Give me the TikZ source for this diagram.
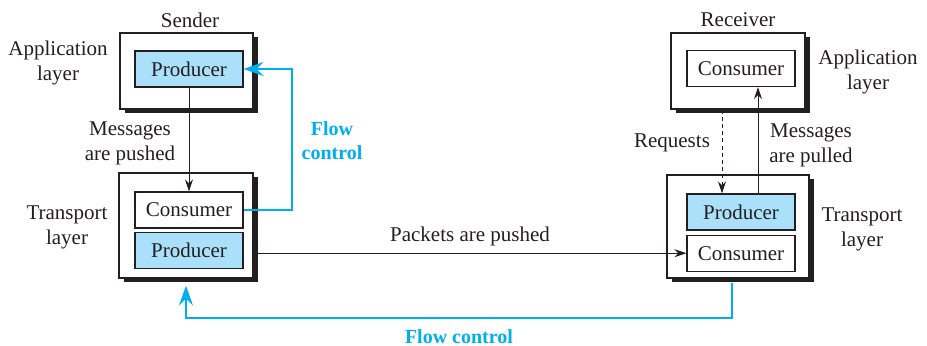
\documentclass[tikz,border=0pt]{standalone}
\usepackage{fontspec}
\setmainfont{Liberation Serif}
\usepackage{xcolor}
\usepackage{tikz}
\usetikzlibrary{arrows.meta, positioning, shadows}
\definecolor{flowblue}{RGB}{0,174,239}
\definecolor{prodblue}{RGB}{170,224,250}
\definecolor{inkgray}{RGB}{35,31,32}
\tikzset{
  layerbox/.style={
    rectangle, draw=inkgray, fill=white, line width=0.6pt, inner sep=0pt,
    drop shadow={shadow xshift=2.4pt, shadow yshift=-2.2pt, fill=inkgray, opacity=1}
  },
  block/.style={
    rectangle, draw=inkgray, fill=white, line width=0.6pt,
    minimum width=54pt, minimum height=18pt, inner sep=0pt, text=inkgray
  },
  prodblock/.style={block, fill=prodblue},
  note/.style={align=center, text=inkgray},
  flowlabel/.style={align=center, text=flowblue, font=\bfseries},
  arrow/.style={-{Stealth[length=6pt, width=4pt, inset=2pt]}, draw=inkgray, line width=0.5pt},
  dasharrow/.style={arrow, dash pattern=on 2pt off 1.6pt},
  flowarrow/.style={-{Stealth[length=10pt, width=7pt, inset=3.5pt]}, draw=flowblue, line width=1.3pt},
}

\begin{document}
\begin{tikzpicture}[x=0.5pt, y=-0.5pt, font=\fontsize{10.5}{12.6}\selectfont]
    \useasboundingbox (0,0) rectangle (927,345);

    % sender side
    \node[layerbox, minimum width=66.5pt, minimum height=38pt] (sapp) at (186.5,71) {};
    \node[prodblock] (sprod) at (189,69) {Producer};
    \node[layerbox, minimum width=67pt, minimum height=52.5pt] (strans) at (186,225.5) {};
    \node[block] (scons) at (189,210) {Consumer};
    \node[prodblock, below=1.5pt of scons] (stprod) {Producer};

    % receiver side
    \node[layerbox, minimum width=67pt, minimum height=38pt] (rapp) at (738,71) {};
    \node[block] (rcons) at (741,68.5) {Consumer};
    \node[layerbox, minimum width=71pt, minimum height=51.5pt] (rtrans) at (738,226.5) {};
    \node[prodblock] (rprod) at (741,212) {Producer};
    \node[block, below=2pt of rprod] (rtcons) {Consumer};

    % labels
    \node[note] (sender) at (190,20) {Sender};
    \node[note] (receiver) at (738,20) {Receiver};
    \node[note] (sapplbl) at (58,63) {Application\\layer};
    \node[note] (stranslbl) at (67,227) {Transport\\layer};
    \node[note] (rapplbl) at (868,72) {Application\\layer};
    \node[note] (rtranslbl) at (862,229) {Transport\\layer};
    \node[note] (pushlbl) at (130,143) {Messages\\are pushed};
    \node[note] (pulllbl) at (811,145) {Messages\\are pulled};
    \node[note] (reqlbl) at (672,143) {Requests};
    \node[flowlabel] (fclbl) at (332,141) {Flow\\control};

    \coordinate (fc) at (292,69);
    \coordinate (fb) at (732,318);

    \draw[arrow] (sprod.south) -- (scons.north);
    \draw[flowarrow] (scons.east) -| (fc) -- (sprod.east);
    \draw[arrow] (strans.east |- rtcons.west) -- node[note, above] {Packets are pushed} (rtcons.west);
    \draw[dasharrow] ([xshift=-8pt]rapp.south) -- ([xshift=-9.5pt]rprod.north);
    \draw[arrow] ([xshift=8.5pt]rprod.north) -- ([xshift=8.5pt]rcons.south);
    \draw[flowarrow, shorten <=2.2pt, shorten >=3.5pt] (rtrans.south -| fb) -- (fb)
      -- node[flowlabel, inner sep=0.5pt, below=4.5pt] {Flow control} (fb -| strans.south) -- (strans.south);
  \end{tikzpicture}
\end{document}
